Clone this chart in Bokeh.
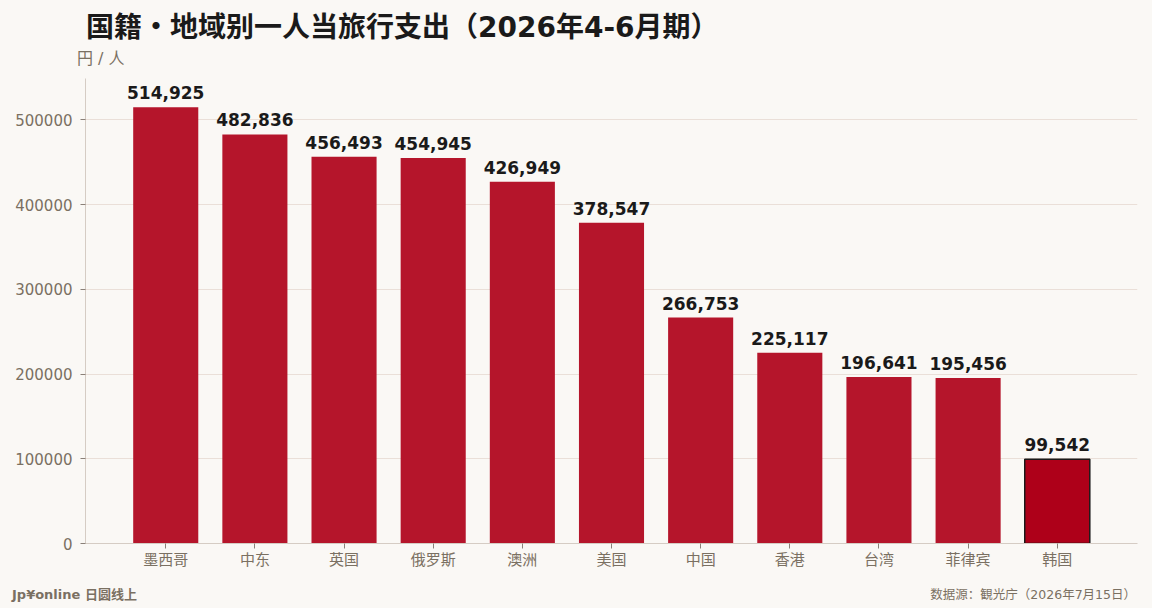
from bokeh.plotting import figure
from bokeh.layouts import column
from bokeh.models import ColumnDataSource, Div, FactorRange, NumeralTickFormatter, FixedTicker, LabelSet
from bokeh.core.properties import value
from bokeh.embed import file_html
from bokeh.resources import INLINE

categories = ["墨西哥", "中东", "英国", "俄罗斯", "澳洲", "美国", "中国", "香港", "台湾", "菲律宾", "韩国"]
values = [514925, 482836, 456493, 454945, 426949, 378547, 266753, 225117, 196641, 195456, 99542]
y_ticks = [0, 100000, 200000, 300000, 400000, 500000]

title_text = "国籍・地域别一人当旅行支出（2026年4-6月期）"
unit_text = "円 / 人"
brand_text = "Jp¥online 日圆线上"
source_text = "数据源：観光庁（2026年7月15日）"

FONT = "DejaVu Sans, Noto Sans CJK SC, sans-serif"
BG = "#FAF8F5"
TXT = "#7A7062"
W = 1152
HEAD_H = 78
FOOT_H = 30
MAIN_H = 608 - HEAD_H - FOOT_H
FRAME_BOTTOM = 543  # canvas y of the x axis

# header
head = Div(width=W, height=HEAD_H, margin=0, styles={"background-color": BG},
           text=(f'<div style="position:relative;width:{W}px;height:{HEAD_H}px;background:{BG};'
                 f'font-family:{FONT};">'
                 f'<div style="position:absolute;left:86px;top:12px;line-height:32px;font-size:28px;'
                 f'font-weight:bold;color:#1A1A1A;white-space:nowrap;">{title_text}</div>'
                 f'<div style="position:absolute;left:77px;top:49px;line-height:20px;font-size:16px;'
                 f'color:{TXT};white-space:nowrap;">{unit_text}</div></div>'))

# main chart
fill = ["#B5152B"] * (len(categories) - 1) + ["#AE0019"]
line = ["#B5152B"] * (len(categories) - 1) + ["#1A1A1A"]
lw = [0] * (len(categories) - 1) + [1.5]
src = ColumnDataSource(dict(cat=categories, val=values, fill=fill, line=line, lw=lw,
                            lab=[f"{v:,}" for v in values]))

# y range: 5% headroom above the largest bar at canvas y=85, frame extended a little higher
y_end = max(values) * 1.05 * (FRAME_BOTTOM - HEAD_H) / (FRAME_BOTTOM - 85)

p = figure(width=W, height=MAIN_H, output_backend="svg", toolbar_location=None,
           x_range=FactorRange(*categories, range_padding=0.4, range_padding_units="absolute"),
           y_range=(0, y_end),
           min_border_left=85, min_border_right=15, min_border_top=0,
           min_border_bottom=MAIN_H - (FRAME_BOTTOM - HEAD_H), margin=0,
           background_fill_color=BG, border_fill_color=BG, outline_line_color=None)

p.vbar(x="cat", top="val", width=0.73, source=src, fill_color="fill", line_color="line", line_width="lw")

p.add_layout(LabelSet(x="cat", y="val", text="lab", source=src, text_align="center",
                      text_baseline="bottom", y_offset=8, text_font_size="17px",
                      text_font_style="bold", text_color="#1A1A1A", text_font=value(FONT)))

p.xgrid.grid_line_color = None
p.ygrid.grid_line_color = "#EADFD8"
p.ygrid.ticker = FixedTicker(ticks=y_ticks)
p.yaxis.ticker = FixedTicker(ticks=y_ticks)
p.yaxis.formatter = NumeralTickFormatter(format="0")
for ax in (p.xaxis[0], p.yaxis[0]):
    ax.axis_line_color = "#D5CCC4"
    ax.major_tick_line_color = "#8A8078"
    ax.minor_tick_line_color = None
    ax.major_tick_in = 0
    ax.major_tick_out = 5
    ax.major_label_text_color = TXT
    ax.major_label_text_font = FONT
    ax.major_label_text_font_size = "15px"
p.xaxis.major_label_standoff = 2
p.yaxis.major_label_standoff = 8

# footer
foot = Div(width=W, height=FOOT_H, margin=0, styles={"background-color": BG},
           text=(f'<div style="position:relative;width:{W}px;height:{FOOT_H}px;background:{BG};'
                 f'font-family:{FONT};font-size:13px;line-height:16px;color:{TXT};">'
                 f'<div style="position:absolute;left:12px;top:9px;font-weight:bold;white-space:nowrap;">{brand_text}</div>'
                 f'<div style="position:absolute;right:16px;top:9px;font-size:12.5px;white-space:nowrap;">{source_text}</div></div>'))

layout = column(head, p, foot, spacing=0, margin=0, styles={"background-color": BG})
open("out.html", "w").write(file_html(layout, INLINE))
